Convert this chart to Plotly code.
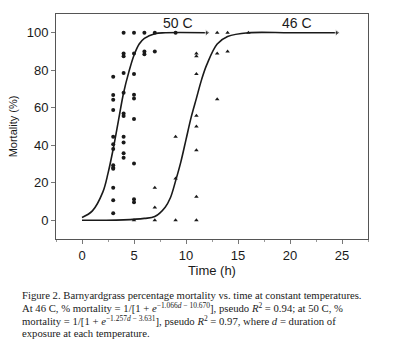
import plotly.graph_objects as go

t50 = [3, 3, 3, 3, 3, 3, 3, 3, 3, 3, 3, 3, 3,
       4, 4, 4, 4, 4, 4, 4, 4, 4, 4, 4,
       5, 5, 5, 5, 5, 5, 5, 5, 5,
       6, 6, 6, 7, 7, 9]
m50 = [76.5, 66.8, 64.3, 58.8, 44.5, 40.5, 38.0, 29.4, 27.5, 17.3, 10.7, 3.8, 28.0,
       100, 89, 87.5, 78.5, 68, 57, 55.6, 44.5, 41.5, 35.7, 33.3,
       100, 89, 78, 67, 65, 54, 30.3, 11.2, 9.6,
       100, 90, 88.5, 100, 90, 100]

t46 = [5, 7, 7, 7, 9, 9, 9,
       11, 11, 11, 11, 11, 11, 11, 11,
       13, 13, 13, 14, 14, 16]
m46 = [0, 17.3, 6.8, 0, 44.5, 22.3, 0,
       89, 87.5, 78, 55.8, 50, 37.4, 12.5, 0,
       100, 89, 64.5, 100, 90, 100]

# Fitted curves
c50_t = [0, 1, 2, 2.5, 3, 3.5, 4, 4.5, 5, 5.5, 6, 7, 8, 12]
c50_m = [1.5, 5, 15, 25, 38, 53, 68, 79, 88, 94, 97, 99.5, 100, 100]

c46_t = [0, 2, 4, 6, 7, 8, 8.5, 9, 9.5, 10, 10.5, 11, 11.5, 12, 13, 14, 16, 20, 24.5]
c46_m = [0, 0, 0.2, 1, 2, 7, 12, 21, 31, 43, 55, 65, 75, 83, 94, 98, 100, 100, 100]

series_labels = ["50 C", "46 C"]
label_t = [9.2, 20.7]
label_m = [105, 105]

x_ticks = [0, 5, 10, 15, 20, 25]
y_ticks = [0, 20, 40, 60, 80, 100]

ink = "#1a1a1a"
fig = go.Figure()

def end_sizes(n, s=6):
    return [0] * (n - 1) + [s]

fig.add_trace(go.Scatter(x=c50_t, y=c50_m, mode="lines+markers", line=dict(color=ink, width=1.6, shape="spline"),
                         marker=dict(symbol="triangle-right", size=end_sizes(len(c50_t)), color=ink),
                         showlegend=False, hoverinfo="skip"))
fig.add_trace(go.Scatter(x=c46_t, y=c46_m, mode="lines+markers", line=dict(color=ink, width=1.6, shape="spline"),
                         marker=dict(symbol="triangle-right", size=end_sizes(len(c46_t)), color=ink),
                         showlegend=False, hoverinfo="skip"))
fig.add_trace(go.Scatter(x=t50, y=m50, mode="markers",
                         marker=dict(symbol="circle", size=4, color=ink), showlegend=False))
fig.add_trace(go.Scatter(x=t46, y=m46, mode="markers",
                         marker=dict(symbol="triangle-up", size=4, color=ink), showlegend=False))

for lab, lx, ly in zip(series_labels, label_t, label_m):
    fig.add_annotation(x=lx, y=ly, text=lab, showarrow=False,
                       font=dict(family="Liberation Sans, Arial", size=14, color=ink))

axis_common = dict(showline=True, linecolor="#555", linewidth=1, mirror=True,
                   ticks="outside", ticklen=4, tickcolor="#777", showgrid=False, zeroline=False,
                   tickfont=dict(family="Liberation Sans, Arial", size=13, color=ink))

fig.update_xaxes(range=[-2.5, 27.5], tickvals=x_ticks,
                 minor=dict(ticks="outside", dtick=2.5, tick0=0, ticklen=2, tickcolor="#999"),
                 title=dict(text="Time (h)", font=dict(family="Liberation Sans, Arial", size=13, color=ink), standoff=3),
                 **axis_common)
fig.update_yaxes(range=[-10, 110], tickvals=y_ticks,
                 title=dict(text="Mortality (%)", font=dict(family="Liberation Sans, Arial", size=11, color=ink), standoff=6),
                 **axis_common)

caption = [
    "Figure 2. Barnyardgrass percentage mortality vs. time at constant temperatures.",
    "At 46 C, % mortality = 1/[1 + <i>e</i><sup>−1.066<i>d</i> − 10.670</sup>], pseudo <i>R</i><sup>2</sup> = 0.94; at 50 C, %",
    "mortality = 1/[1 + <i>e</i><sup>−1.257<i>d</i> − 3.631</sup>], pseudo <i>R</i><sup>2</sup> = 0.97, where <i>d</i> = duration of",
    "exposure at each temperature.",
]
cap_y = [295, 307.5, 320.5, 333]
plot_top, plot_h = 14, 225
for line, py in zip(caption, cap_y):
    fig.add_annotation(xref="paper", yref="paper", x=(20 - 56) / 312, y=1 - (py - plot_top) / plot_h,
                       xanchor="left", yanchor="middle", text=line, showarrow=False, align="left",
                       font=dict(family="Liberation Serif, Times New Roman", size=10.7, color=ink))

fig.update_layout(width=400, height=353, margin=dict(l=56, r=32, t=14, b=114),
                  paper_bgcolor="white", plot_bgcolor="white")

fig.write_html("out.html")
